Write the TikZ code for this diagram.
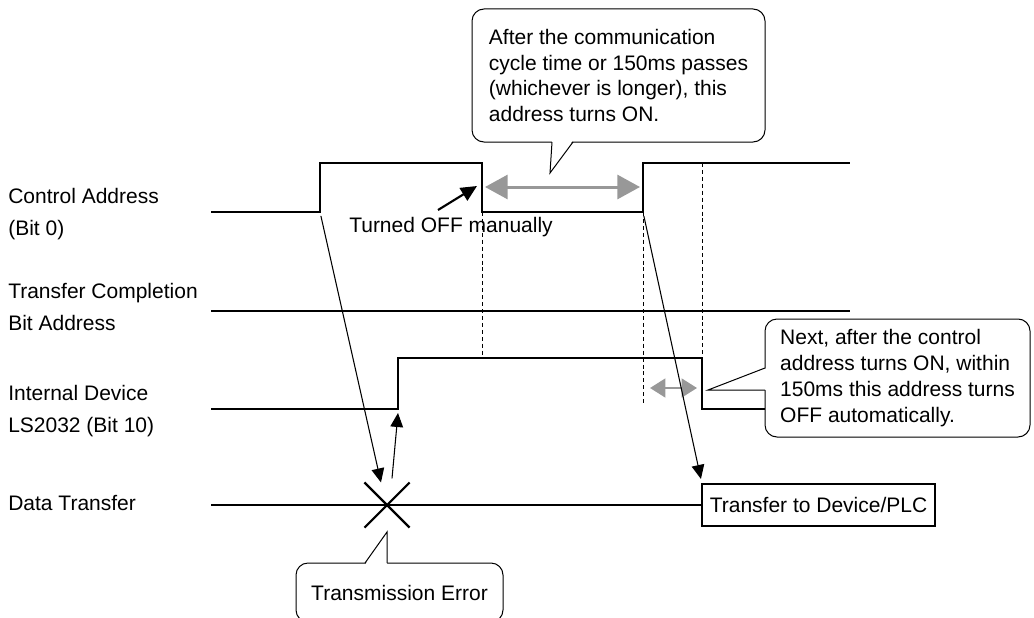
\documentclass[tikz,border=0pt]{standalone}
\usepackage{fontspec}
\setmainfont{Liberation Sans}
\usepackage{xcolor}
\usetikzlibrary{arrows.meta,positioning,shapes.misc}
\definecolor{arrgray}{RGB}{152,152,152}

\begin{document}
\begin{tikzpicture}[x=0.75pt, y=-0.75pt,
    sig/.style={line width=1.6pt, line join=miter},
    guide/.style={line width=0.6pt, dash pattern=on 3pt off 2.2pt},
    arr/.style={-{Triangle[length=10.5pt,width=9.5pt]}, line width=0.8pt},
    grayarr/.style={{Triangle[length=17pt,width=18pt]}-{Triangle[length=17pt,width=18pt]},
                    draw=arrgray, line width=2.25pt},
    note/.style={draw, rounded corners=9pt, line width=0.75pt, fill=white, align=left,
                 inner sep=0pt, font=\fontsize{15.75}{19.4}\selectfont},
    lbl/.style={anchor=base west, align=left, inner sep=0pt,
                font=\fontsize{15.75}{24}\selectfont}
  ]
  \useasboundingbox (0,0) rectangle (1034,617);
  \clip (0,0) rectangle (1034,617);

  % signal labels
  \node[lbl] (lca) at (8,235) {Control Address\\(Bit 0)};
  \node[lbl] (ltc) at (8,330) {Transfer Completion\\Bit Address};
  \node[lbl] (lid) at (8,432) {Internal Device\\LS2032 (Bit 10)};
  \node[lbl] (ldt) at (8,510) {Data Transfer};

  % waveforms
  \coordinate (ca0) at (211,212);
  \coordinate (ca1) at (320,212);
  \coordinate (ca2) at (320,163);
  \coordinate (ca3) at (482,163);
  \coordinate (ca4) at (482,212);
  \coordinate (ca5) at (643,212);
  \coordinate (ca6) at (643,163);
  \coordinate (ca7) at (850,163);
  \coordinate (tc0) at (211,311);
  \coordinate (tc1) at (850,311);
  \coordinate (id0) at (211,409);
  \coordinate (id1) at (398,409);
  \coordinate (id2) at (398,358);
  \coordinate (id3) at (702,358);
  \coordinate (id4) at (702,409);
  \coordinate (dt0) at (211,505);

  \node[note, minimum width=265*0.75pt, minimum height=118*0.75pt] (note2) at (897.5,378)
    {Next, after the control\\address turns ON, within\\150ms this address turns\\OFF automatically.};
  \node[draw, line width=1.6pt, minimum width=233*0.75pt, minimum height=42*0.75pt, inner sep=0pt,
        font=\fontsize{15.75}{19}\selectfont] (xfer) at (818.5,505) {Transfer to Device/PLC};
  \node[draw, cross out, line width=1.6pt, minimum size=43*0.75pt, inner sep=0pt] (err) at (387,505) {};

  \draw[sig] (ca0) -- (ca1) -- (ca2) -- (ca3) -- (ca4) -- (ca5) -- (ca6) -- (ca7);
  \draw[sig] (tc0) -- (tc1);
  \draw[sig] (id0) -- (id1) -- (id2) -- (id3) -- (id4) -- (id4 -| note2.west);
  \draw[sig] (dt0) -- (xfer.west);

  \draw[guide] (ca4) -- (ca4 |- id2);
  \draw[guide] (ca5) -- ++(0,193);
  \draw[guide] (id3 |- ca6) -- (id3);

  \node[lbl] (off) at (349,232) {Turned OFF manually};
  \coordinate (offtail) at (438,210);
  \draw[-{Triangle[length=12pt,width=11pt]}, line width=1.6pt] (offtail) -- ([shift={(-5,-26)}]ca4);

  \draw[grayarr] ([shift={(3,-25)}]ca4) -- ([shift={(-3,-25)}]ca5);
  \draw[grayarr, {Triangle[length=11.5pt,width=14pt]}-{Triangle[length=11.5pt,width=14pt]}, line width=1.9pt]
    ([shift={(7,176)}]ca5) -- ([shift={(-5,-21)}]id4);

  \draw[arr, shorten <=3pt] (ca1) -- ([xshift=12.4pt]err.north west);
  \draw[arr] ([shift={(5,-4)}]err.north) -- ([yshift=-3pt]id1);
  \draw[arr, shorten <=3pt] (ca5) -- ([yshift=3pt]xfer.north west);

  % callouts
  \node[note, minimum width=293*0.75pt, minimum height=133*0.75pt] (note1) at (618.5,75.5)
    {After the communication\\cycle time or 150ms passes\\(whichever is longer), this\\address turns ON.};
  \coordinate (tip1) at (550,173);
  \fill[white] (552,140) -- (tip1) -- (573,140) -- cycle;
  \draw[line width=0.75pt] (552,142) -- (tip1) -- (573,142);

  \coordinate (tip2) at (708,390);
  \fill[white] (767,368) -- (tip2) -- (767,390) -- cycle;
  \draw[line width=0.75pt] (765,368) -- (tip2) -- (765,390);

  \node[note, minimum width=207*0.75pt, minimum height=59*0.75pt] (note3) at (399.5,592.5)
    {Transmission Error};
  \coordinate (tip3) at (387,532);
  \fill[white] (365,565) -- (tip3) -- (387,565) -- cycle;
  \draw[line width=0.75pt] (365,563) -- (tip3) -- (387,563);
\end{tikzpicture}
\end{document}
